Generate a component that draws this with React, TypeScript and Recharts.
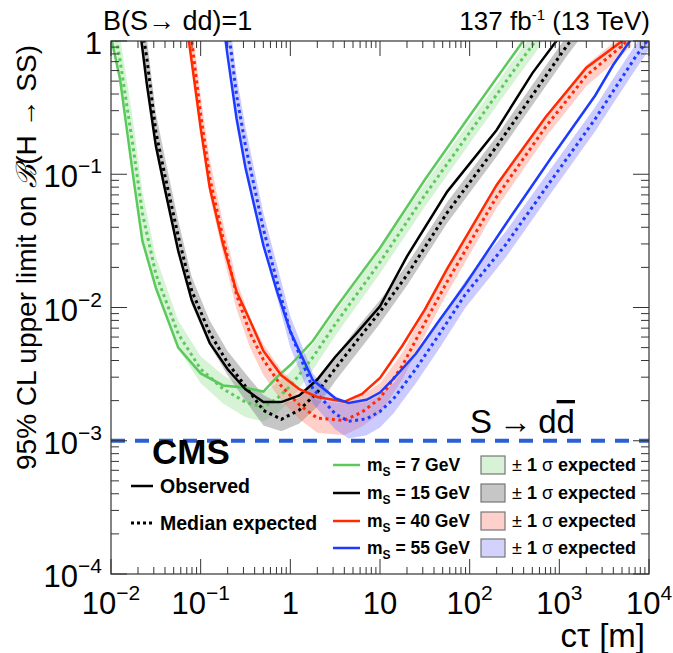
import React from 'react'
import { ComposedChart, Line, Area, XAxis, YAxis, ReferenceLine } from 'recharts'

// m_S = 7 GeV
const CT_7 = [0.01, 0.0126, 0.0178, 0.0224, 0.0316, 0.0562, 0.1, 0.178, 0.316, 0.501, 0.708, 1, 1.78, 3.16, 10, 31.6, 100, 316, 501, 631]
const OBS_7 = [1.07, 0.52, 0.093, 0.0316, 0.0141, 0.005, 0.0032, 0.0026, 0.0025, 0.00234, 0.003, 0.0037, 0.0056, 0.0098, 0.028, 0.091, 0.275, 0.81, 1.25, 1.6]
const EXP_7 = [1.8, 0.72, 0.154, 0.051, 0.0179, 0.00635, 0.00345, 0.00245, 0.00195, 0.00178, 0.00207, 0.00257, 0.00422, 0.00748, 0.0219, 0.0697, 0.206, 0.61, 0.93, 1.15]
const LO_7 = [1.2, 0.45, 0.095, 0.033, 0.013, 0.0049, 0.0027, 0.0019, 0.0015, 0.0014, 0.0016, 0.002, 0.0034, 0.0061, 0.018, 0.057, 0.17, 0.5, 0.76, 0.95]
const HI_7 = [2.5, 1.1, 0.24, 0.075, 0.024, 0.008, 0.0043, 0.0031, 0.0025, 0.0023, 0.0027, 0.0033, 0.0053, 0.0092, 0.027, 0.085, 0.25, 0.74, 1.13, 1.4]

// m_S = 15 GeV
const CT_15 = [0.02, 0.0251, 0.0316, 0.0398, 0.0562, 0.0794, 0.126, 0.2, 0.316, 0.501, 0.794, 1.26, 2.0, 3.16, 5.62, 10, 20, 56.2, 200, 501, 1000, 1259, 1585]
const OBS_15 = [1.6, 0.475, 0.164, 0.078, 0.0266, 0.01135, 0.00543, 0.00344, 0.00243, 0.00195, 0.00195, 0.00219, 0.00288, 0.00425, 0.00653, 0.0102, 0.0242, 0.0741, 0.215, 0.574, 1.07, 1.3, 1.6]
const EXP_15 = [2.0, 0.74, 0.209, 0.0988, 0.0343, 0.0134, 0.00646, 0.00384, 0.00256, 0.00169, 0.00145, 0.0017, 0.00231, 0.00347, 0.00571, 0.00927, 0.01754, 0.0516, 0.162, 0.392, 0.766, 0.95, 1.17]
const LO_15 = [1.4, 0.5, 0.15, 0.072, 0.026, 0.0105, 0.0052, 0.0031, 0.002, 0.0013, 0.00118, 0.00135, 0.0018, 0.0028, 0.0046, 0.0076, 0.0146, 0.043, 0.136, 0.33, 0.64, 0.8, 0.98]
const HI_15 = [2.8, 1.05, 0.29, 0.135, 0.045, 0.017, 0.008, 0.0047, 0.0032, 0.0022, 0.00188, 0.0021, 0.0029, 0.0043, 0.0071, 0.0114, 0.021, 0.062, 0.193, 0.47, 0.91, 1.13, 1.4]

// m_S = 40 GeV
const CT_40 = [0.063, 0.0794, 0.1, 0.126, 0.178, 0.251, 0.355, 0.501, 0.794, 1.26, 2.0, 3.98, 6.31, 10, 17.8, 31.6, 56.2, 200, 708, 2000, 5012, 6310]
const OBS_40 = [2.2, 0.7, 0.222, 0.08, 0.0296, 0.0132, 0.008, 0.00472, 0.0031, 0.00244, 0.00213, 0.00196, 0.00225, 0.00296, 0.00519, 0.00964, 0.01954, 0.0832, 0.27, 0.63, 1.0, 1.2]
const EXP_40 = [3.0, 1.0, 0.28, 0.095, 0.033, 0.0125, 0.00643, 0.00405, 0.00257, 0.00186, 0.00148, 0.00142, 0.00164, 0.00208, 0.00367, 0.00767, 0.01567, 0.0678, 0.228, 0.55, 0.92, 1.08]
const LO_40 = [2.2, 0.7, 0.2, 0.07, 0.025, 0.0097, 0.005, 0.0031, 0.002, 0.00145, 0.00115, 0.0011, 0.00128, 0.0016, 0.0029, 0.0062, 0.0128, 0.056, 0.19, 0.46, 0.78, 0.91]
const HI_40 = [4.0, 1.4, 0.39, 0.13, 0.043, 0.016, 0.0083, 0.0053, 0.0034, 0.0025, 0.002, 0.0019, 0.0022, 0.0027, 0.0046, 0.0095, 0.0192, 0.082, 0.275, 0.66, 1.1, 1.3]

// m_S = 55 GeV
const CT_55 = [0.158, 0.2, 0.251, 0.316, 0.501, 0.708, 1, 1.78, 3.16, 4.47, 7.08, 10, 14.1, 25.1, 44.7, 89.1, 251, 794, 2512, 3981, 7079, 10000]
const OBS_55 = [2.5, 0.77, 0.263, 0.112, 0.0292, 0.0133, 0.0066, 0.00286, 0.00209, 0.00192, 0.00203, 0.0023, 0.00291, 0.00449, 0.00782, 0.0148, 0.042, 0.13, 0.39, 0.66, 1.15, 1.5]
const EXP_55 = [3.5, 1.35, 0.395, 0.164, 0.0387, 0.0158, 0.0066, 0.00247, 0.00159, 0.0014, 0.00146, 0.00166, 0.00206, 0.00346, 0.00614, 0.0125, 0.0295, 0.088, 0.26, 0.42, 0.76, 1.05]
const LO_55 = [2.5, 0.95, 0.28, 0.12, 0.029, 0.012, 0.005, 0.0019, 0.00122, 0.00104, 0.0011, 0.00126, 0.0016, 0.0027, 0.0048, 0.0099, 0.0236, 0.071, 0.21, 0.34, 0.61, 0.86]
const HI_55 = [5.0, 1.9, 0.55, 0.225, 0.051, 0.021, 0.0086, 0.0032, 0.0021, 0.0019, 0.00195, 0.0022, 0.0027, 0.0045, 0.0079, 0.0158, 0.037, 0.109, 0.32, 0.52, 0.94, 1.3]

const MASSES = ['7', '15', '40', '55']
const LINE_COLORS = ['#5cc95c', '#000000', '#ff2a00', '#1c3bff']
const BAND_COLORS = ['#7fd97f', '#808080', '#ff6a5a', '#6a6aff']
const BAND_OPACITY = [0.32, 0.45, 0.32, 0.35]
const BOX_FILL = ['#d8f2d8', '#c6c6c6', '#fdd0cb', '#d2d2fc']

const X_MAJOR = [0.01, 0.1, 1, 10, 100, 1000, 10000]
const X_LABELS = [['10', '−2'], ['10', '−1'], ['1', ''], ['10', ''], ['10', '2'], ['10', '3'], ['10', '4']]
const Y_MAJOR = [0.0001, 0.001, 0.01, 0.1, 1]
const Y_LABELS = [['10', '−4'], ['10', '−3'], ['10', '−2'], ['10', '−1'], ['1', '']]

const W = 673, H = 653
const PL = 111, PR = 649, PT = 41, PB = 574
const FONT = "'Liberation Sans', Arial, Helvetica, sans-serif"
const NARROW = "'Liberation Sans Narrow', 'Liberation Sans', Arial, sans-serif"

const minors = (majors: number[]) =>
  majors.slice(0, -1).flatMap(d => [2, 3, 4, 5, 6, 7, 8, 9].map(k => +(k * d).toPrecision(3)))
const X_TICKS = [...X_MAJOR, ...minors(X_MAJOR)].sort((a, b) => a - b)
const Y_TICKS = [...Y_MAJOR, ...minors(Y_MAJOR)].sort((a, b) => a - b)

const rows = (ct: number[], obs: number[], exp: number[], lo: number[], hi: number[]) =>
  ct.map((c, i) => ({ ct: c, obs: obs[i], exp: exp[i], lo: lo[i], hi: hi[i] }))

const SERIES = [
  rows(CT_7, OBS_7, EXP_7, LO_7, HI_7),
  rows(CT_15, OBS_15, EXP_15, LO_15, HI_15),
  rows(CT_40, OBS_40, EXP_40, LO_40, HI_40),
  rows(CT_55, OBS_55, EXP_55, LO_55, HI_55),
]

function XTick(props: any) {
  const { x, payload } = props
  const i = X_MAJOR.indexOf(payload.value)
  const len = i >= 0 ? 15 : 7
  return (
    <g>
      <line x1={x} x2={x} y1={PB} y2={PB - len} stroke="#333" />
      <line x1={x} x2={x} y1={PT} y2={PT + len} stroke="#333" />
      {i >= 0 && (
        <text x={x} y={614} textAnchor="middle" fontSize={31} fontFamily={FONT} fill="#000">
          {X_LABELS[i][0]}
          {X_LABELS[i][1] && <tspan dy={-14} fontSize={21}>{X_LABELS[i][1]}</tspan>}
        </text>
      )}
    </g>
  )
}

function YTick(props: any) {
  const { y, payload } = props
  const i = Y_MAJOR.indexOf(payload.value)
  const len = i >= 0 ? 16 : 8
  return (
    <g>
      <line x1={PL} x2={PL + len} y1={y} y2={y} stroke="#333" />
      <line x1={PR} x2={PR - len} y1={y} y2={y} stroke="#333" />
      {i >= 0 && (
        <text x={102} y={y + 13} textAnchor="end" fontSize={31} fontFamily={FONT} fill="#000">
          {Y_LABELS[i][0]}
          {Y_LABELS[i][1] && <tspan dy={-14} fontSize={21}>{Y_LABELS[i][1]}</tspan>}
        </text>
      )}
    </g>
  )
}

function Overlay() {
  const rowsY = [465, 493, 521, 548]
  return (
    <svg width={W} height={H} style={{ position: 'absolute', left: 0, top: 0, pointerEvents: 'none' }}>
      <rect x={PL} y={PT} width={PR - PL} height={PB - PT} fill="none" stroke="#333" strokeWidth={1.2} />
      <text x={103} y={30} fontSize={27} fontFamily={NARROW} fill="#000">B(S→ dd)=1</text>
      <text x={650} y={30} textAnchor="end" fontSize={26} fontFamily={NARROW} fill="#000">
        137 fb<tspan dy={-10} fontSize={15}>-1</tspan><tspan dy={10}> (13 TeV)</tspan>
      </text>
      <text transform="rotate(-90)" x={-45} y={36} textAnchor="end" fontSize={28} fontFamily={FONT} fill="#000">
        95% CL upper limit on <tspan fontFamily="'DejaVu Serif', serif" fontStyle="italic">ℬ</tspan>(H → SS)
      </text>
      <text x={645} y={647} textAnchor="end" fontSize={33} fontFamily={FONT} fill="#000">cτ [m]</text>
      <text x={470} y={433} fontSize={33} fontFamily={FONT} fill="#000">
        S{'\u2009'}→{'\u2009'}d<tspan textDecoration="overline">d</tspan>
      </text>
      <text x={152} y={464} fontSize={35} fontWeight="bold" fontFamily={FONT} fill="#000">CMS</text>
      <line x1={131} x2={153} y1={486} y2={486} stroke="#000" strokeWidth={2.5} />
      <text x={160} y={493} fontSize={19.5} fontWeight="bold" fontFamily={FONT} fill="#000">Observed</text>
      <line x1={131} x2={153} y1={523} y2={523} stroke="#000" strokeWidth={3} strokeDasharray="3 3" />
      <text x={160} y={530} fontSize={19.5} fontWeight="bold" fontFamily={FONT} fill="#000">Median expected</text>
      {MASSES.map((m, i) => (
        <g key={m}>
          <line x1={333} x2={360} y1={rowsY[i]} y2={rowsY[i]} stroke={LINE_COLORS[i]} strokeWidth={2.5} />
          <text x={367} y={rowsY[i] + 6} fontSize={17.5} fontWeight="bold" fontFamily={FONT} fill="#000">
            m<tspan dy={5} fontSize={12}>S</tspan><tspan dy={-5}>{` = ${m} GeV`}</tspan>
          </text>
          <rect x={481} y={rowsY[i] - 9} width={24} height={18} fill={BOX_FILL[i]} stroke="#777" strokeWidth={1.2} />
          <text x={512} y={rowsY[i] + 6} fontSize={18} fontFamily={FONT} fill="#000">
            <tspan fontWeight="normal">±</tspan><tspan fontWeight="bold"> 1 </tspan>
            <tspan fontWeight="normal">σ</tspan><tspan fontWeight="bold"> expected</tspan>
          </text>
        </g>
      ))}
    </svg>
  )
}

export default function App() {
  return (
    <div style={{ position: 'absolute', left: 0, top: 0, width: W, height: H, background: '#fff' }}>
      <ComposedChart width={W} height={H} margin={{ top: PT, right: W - PR, bottom: 0, left: 0 }}>
        <XAxis dataKey="ct" type="number" scale="log" domain={[0.01, 10000]} allowDataOverflow
          ticks={X_TICKS} interval={0} tick={<XTick />} tickLine={false} axisLine={false} height={H - PB} />
        <YAxis type="number" scale="log" domain={[0.0001, 1]} allowDataOverflow
          ticks={Y_TICKS} interval={0} tick={<YTick />} tickLine={false} axisLine={false} width={PL} />
        {SERIES.map((data, i) => (
          <Area key={'band' + i} data={data} dataKey={(d: any) => [d.lo, d.hi]} type="linear"
            stroke="none" fill={BAND_COLORS[i]} fillOpacity={BAND_OPACITY[i]}
            isAnimationActive={false} dot={false} activeDot={false} />
        ))}
        {SERIES.map((data, i) => (
          <Line key={'exp' + i} data={data} dataKey="exp" type="linear" stroke={LINE_COLORS[i]}
            strokeWidth={3} strokeDasharray="3 3.5" dot={false} activeDot={false} isAnimationActive={false} />
        ))}
        {SERIES.map((data, i) => (
          <Line key={'obs' + i} data={data} dataKey="obs" type="linear" stroke={LINE_COLORS[i]}
            strokeWidth={2.5} dot={false} activeDot={false} isAnimationActive={false} />
        ))}
        <ReferenceLine y={0.001} stroke="#2a5fd6" strokeWidth={4} strokeDasharray="14 10" />
      </ComposedChart>
      <Overlay />
    </div>
  )
}
